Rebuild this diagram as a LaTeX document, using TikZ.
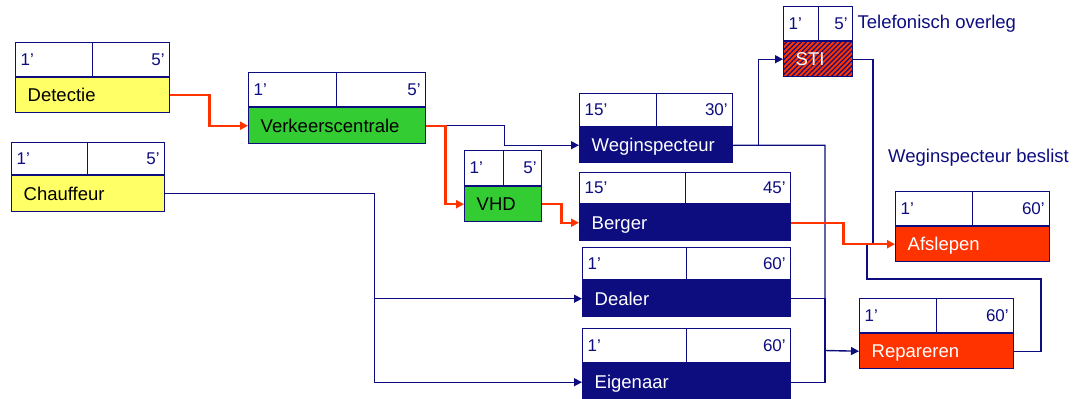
\documentclass[tikz,border=0pt]{standalone}
\usepackage{fontspec}
\setmainfont{Liberation Sans}
\usetikzlibrary{positioning,arrows.meta,patterns.meta}

\definecolor{blauw}{RGB}{13,13,128}
\definecolor{rood}{RGB}{255,51,0}
\definecolor{geel}{RGB}{255,255,102}
\definecolor{groen}{RGB}{51,204,51}

\tikzset{
  tijd/.style={draw=blauw, line width=1.4bp, fill=white, minimum height=34bp,
    inner xsep=5bp, inner ysep=0bp, text=blauw, text height=12bp, text depth=0bp,
    font=\fontsize{17bp}{17bp}\selectfont},
  tijdl/.style={tijd, text width=#1, align=left, anchor=south west},
  tijdr/.style={tijd, text width=#1, align=right, anchor=south east},
  taak/.style={draw=blauw, line width=1.4bp, minimum height=35bp, inner xsep=12bp,
    inner ysep=0bp, text width=#1, align=left, anchor=north west,
    text height=13bp, text depth=0bp, font=\fontsize{18.5bp}{18.5bp}\selectfont},
  geeltaak/.style={taak=#1, fill=geel},
  groentaak/.style={taak=#1, fill=groen},
  blauwtaak/.style={taak=#1, fill=blauw, text=white},
  roodtaak/.style={taak=#1, fill=rood, text=white},
  opmerking/.style={inner sep=0bp, text=blauw, font=\fontsize{18.5bp}{18.5bp}\selectfont},
  lijn/.style={draw=blauw, line width=1.4bp},
  pijl/.style={lijn, -{Triangle[length=8bp,width=8bp]}},
  roodpijl/.style={pijl, draw=rood, line width=2.2bp}
}

\begin{document}
\begin{tikzpicture}[x=1bp,y=-1bp]
  \useasboundingbox (0,0) rectangle (1082,398);

  % activities
  \node[geeltaak=130bp] (detectie) at (15,77) {Detectie};
  \node[tijdl=67bp] (detectie-a) at (detectie.north west) {1’};
  \node[tijdr=67bp] (detectie-b) at (detectie.north east) {5’};

  \node[groentaak=153bp, minimum height=36bp] (verkeer) at (248,107) {Verkeerscentrale};
  \node[tijdl=78bp] (verkeer-a) at (verkeer.north west) {1’};
  \node[tijdr=79bp] (verkeer-b) at (verkeer.north east) {5’};

  \node[geeltaak=129bp, minimum height=36bp] (chauffeur) at (11,175) {Chauffeur};
  \node[tijdl=66bp, minimum height=32bp] (chauffeur-a) at (chauffeur.north west) {1’};
  \node[tijdr=67bp, minimum height=32bp] (chauffeur-b) at (chauffeur.north east) {5’};

  \node[groentaak=53bp] (vhd) at (464,186) {VHD};
  \node[tijdl=29bp, minimum height=35bp] (vhd-a) at (vhd.north west) {1’};
  \node[tijdr=28bp, minimum height=35bp] (vhd-b) at (vhd.north east) {5’};

  \node[blauwtaak=129bp] (weg) at (579,127) {Weginspecteur};
  \node[tijdl=67bp, minimum height=33bp] (weg-a) at (weg.north west) {15’};
  \node[tijdr=66bp, minimum height=33bp] (weg-b) at (weg.north east) {30’};

  \node[blauwtaak=187bp, minimum height=36bp] (berger) at (579,204) {Berger};
  \node[tijdl=96bp, minimum height=31bp] (berger-a) at (berger.north west) {15’};
  \node[tijdr=95bp, minimum height=31bp] (berger-b) at (berger.north east) {45’};

  \node[blauwtaak=184bp, minimum height=36bp] (dealer) at (582,280) {Dealer};
  \node[tijdl=94bp, minimum height=32bp] (dealer-a) at (dealer.north west) {1’};
  \node[tijdr=94bp, minimum height=32bp] (dealer-b) at (dealer.north east) {60’};

  \node[blauwtaak=184bp, minimum height=37bp] (eigenaar) at (582,363) {Eigenaar};
  \node[tijdl=94bp] (eigenaar-a) at (eigenaar.north west) {1’};
  \node[tijdr=94bp] (eigenaar-b) at (eigenaar.north east) {60’};

  \node[roodtaak=45bp, postaction={pattern={Lines[angle=45,distance=3.5bp,line width=1.2bp]},
    pattern color=blauw}] (sti) at (783,41) {STI};
  \node[tijdl=25bp] (sti-a) at (sti.north west) {1’};
  \node[tijdr=24bp] (sti-b) at (sti.north east) {5’};
  \node[opmerking, right=4bp of sti-b] (overleg) {Telefonisch overleg};

  \node[roodtaak=130bp] (afslepen) at (895,226) {Afslepen};
  \node[tijdl=67bp] (afslepen-a) at (afslepen.north west) {1’};
  \node[tijdr=67bp] (afslepen-b) at (afslepen.north east) {60’};
  \node[opmerking, anchor=west] (beslist) at (888,158) {Weginspecteur beslist};

  \node[roodtaak=130bp] (repareren) at (859,333) {Repareren};
  \node[tijdl=67bp] (repareren-a) at (repareren.north west) {1’};
  \node[tijdr=67bp] (repareren-b) at (repareren.north east) {60’};

  % junctions
  \coordinate (samen) at (825,350.5);
  \coordinate (stipunt) at (873,243.5);
  \coordinate (lus1) at (1041,279);
  \coordinate (lus2) at (867,243.5);

  % blue flows
  \draw[pijl] (verkeer.east) -- ++(78,0) |- (weg.west);
  \draw[pijl] (weg.east) -- ++(25,0) |- (sti.west);
  \draw[pijl] (weg.east) -| (samen) -- (repareren.west);
  \draw[lijn] (dealer.east) -| (samen);
  \draw[lijn] (eigenaar.east) -| (samen);
  \draw[pijl] (chauffeur.east) -- ++(209,0) |- (dealer.west);
  \draw[pijl] (chauffeur.east) -- ++(209,0) |- (eigenaar.west);
  \draw[lijn] (sti.east) -| (stipunt);
  \draw[lijn] (repareren.east) -| (lus1) -| (lus2);

  % red flows
  \draw[roodpijl] (detectie.east) -- ++(39,0) |- (verkeer.west);
  \draw[roodpijl] (verkeer.east) -- ++(19,0) |- (vhd.west);
  \draw[roodpijl] (vhd.east) -- ++(19,0) |- (berger.west);
  \draw[roodpijl] (berger.east) -- ++(52,0) |- (afslepen.west);

\end{tikzpicture}
\end{document}
